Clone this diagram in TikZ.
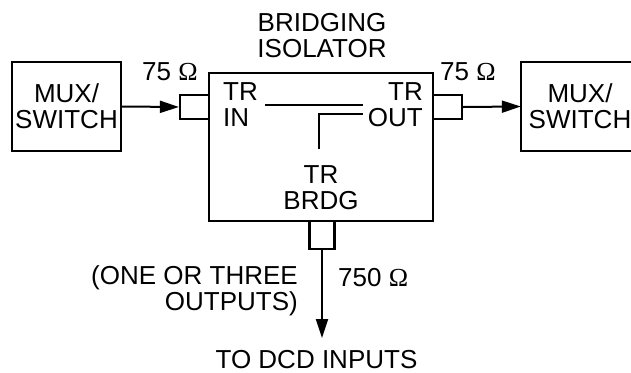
\documentclass[tikz,border=0pt]{standalone}
\usepackage{fontspec}
\setmainfont{Liberation Sans}
\newfontfamily\omegafont{Liberation Serif}
\usetikzlibrary{arrows.meta}
\begin{document}
\begin{tikzpicture}[x=1pt,y=-1pt,
  every node/.style={font=\fontsize{26}{26}\selectfont},
  blk/.style={draw,line width=2.2pt,inner sep=0pt},
  lbl/.style={inner sep=0pt,align=center},
  wire/.style={line width=2.2pt},
  arr/.style={line width=2pt,-{Triangle[length=19pt,width=12pt]}}]
\useasboundingbox (0,0) rectangle (631,372);
% boxes
\node[blk,minimum width=109pt,minimum height=89pt,align=center] (muxL) at (66.5,106.5) {MUX/\\SWITCH};
\node[inner sep=0pt,minimum width=114pt,minimum height=89pt,align=center] (muxR) at (578,106.5) {};
\node[lbl] (muxRtxt) at (580,106.5) {MUX/\\SWITCH};
\draw[wire] (muxR.north east) -- (muxR.north west) -- (muxR.south west) -- (muxR.south east);
\node[blk,minimum width=224pt,minimum height=148pt] (iso) at (321,147) {};
\node[blk,minimum width=29pt,minimum height=24pt] (pin) at (194.5,107) {};
\node[blk,minimum width=29pt,minimum height=24pt] (pout) at (447.5,107) {};
\node[blk,minimum width=25pt,minimum height=28pt] (pbr) at (322,235) {};
% labels
\node[lbl] (title) at (322,36) {BRIDGING\\ISOLATOR};
\node[lbl,anchor=west,align=left] (trin) at (223,105) {TR\\IN};
\node[lbl,anchor=east,align=right] (trout) at (423,105) {TR\\OUT};
\node[lbl] (trbr) at (321,188) {TR\\BRDG};
\node[lbl,anchor=base west] (zL) at (142,80) {75 {\omegafont Ω}};
\node[lbl,anchor=base west] (zR) at (440,80) {75 {\omegafont Ω}};
\node[lbl,anchor=base west] (zB) at (338,286) {750 {\omegafont Ω}};
\node[lbl,anchor=east,align=right] (outs) at (298,291) {(ONE OR THREE\\OUTPUTS)};
\node[lbl,anchor=base] (dcd) at (316.5,368) {TO DCD INPUTS};
% connectors
\coordinate (dcdtip) at (322,338);
\draw[arr] (muxL.east) -- (pin.west);
\draw[arr] (pout.east) -- (muxR.west);
\draw[arr] (pbr.south) -- (dcdtip);
% internal lines
\coordinate (a1) at (265,105);
\coordinate (a2) at (363,105);
\coordinate (b1) at (363,114);
\coordinate (b2) at (319,114);
\coordinate (b3) at (319,149);
\draw[wire] (a1) -- (a2);
\draw[wire] (b1) -- (b2) -- (b3);
\end{tikzpicture}
\end{document}
